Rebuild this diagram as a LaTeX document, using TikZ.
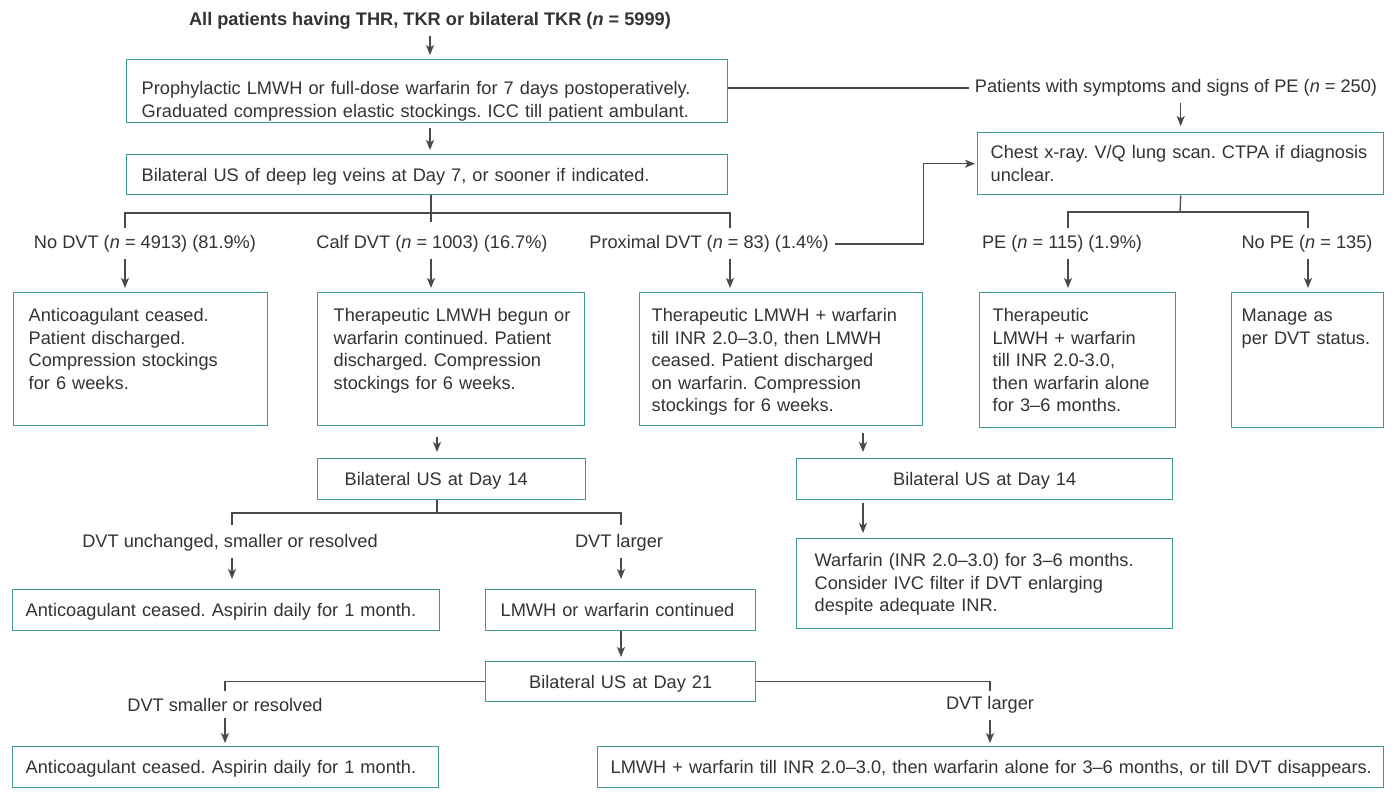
\documentclass[tikz,border=0pt]{standalone}
\usepackage{fontspec}
\setmainfont{Liberation Sans}
\usepackage{xcolor}
\usetikzlibrary{arrows.meta,calc}

\definecolor{boxteal}{HTML}{3D9B94}
\definecolor{linegray}{HTML}{4A4A4A}
\definecolor{textgray}{HTML}{333333}
\newcommand{\chartfont}{\fontsize{18.2pt}{22.5pt}\selectfont}
\frenchspacing
\hyphenpenalty=10000
\exhyphenpenalty=10000

\begin{document}
\begin{tikzpicture}[x=1pt,y=-1pt,
    box/.style={draw=boxteal,line width=1.4pt,anchor=north west,align=left,
      inner xsep=15pt,inner ysep=0pt,text height=27pt,text depth=13pt,
      font=\chartfont,text=textgray},
    lab/.style={inner sep=6pt,font=\chartfont,text=textgray},
    line/.style={draw=linegray,line width=1.3pt},
    arr/.style={line,-{Stealth[length=10pt,width=8pt,inset=2.5pt]},shorten >=4pt}]
    \useasboundingbox (0,0) rectangle (1399,797);

    % Start and prophylaxis
    \node[lab,font=\chartfont\bfseries] (title) at (430,21) {All patients having THR, TKR or bilateral TKR (\textit{n} = 5999)};
    \node[box,text width=571pt,inner xsep=15pt,text height=35pt,text depth=28pt] (pro) at (126,59)
      {Prophylactic LMWH or full-dose warfarin for 7 days postoperatively.\\Graduated compression elastic stockings. ICC till patient ambulant.};
    \node[box,text width=571pt] (usd7) at (126,154) {Bilateral US of deep leg veins at Day 7, or sooner if indicated.};
    \draw[arr] (title.south) -- (title.south |- pro.north);
    \draw[arr,shorten <=5pt] (pro.south -| title) -- (usd7.north -| title);

    % PE branch
    \node[lab] (sympt) at (1176,88) {Patients with symptoms and signs of PE (\textit{n} = 250)};
    \node[box,text width=386pt,inner xsep=10pt,text height=26pt,text depth=36pt] (chest) at (977,132)
      {\hspace*{3pt}Chest x-ray. V/Q lung scan. CTPA if diagnosis\\\hspace*{3pt}unclear.};
    \draw[line] (pro.east |- sympt) -- (sympt.west);
    \draw[arr,shorten >=6pt] (sympt.south -| chest.north) -- (chest.north);

    % Day 7 results
    \node[lab] (nodvtlab) at (145,244) {No DVT (\textit{n} = 4913) (81.9\%)};
    \node[lab] (calflab) at (432,244) {Calf DVT (\textit{n} = 1003) (16.7\%)};
    \node[lab] (proxlab) at (709,244) {Proximal DVT (\textit{n} = 83) (1.4\%)};
    \node[lab] (pelab) at (1062,244) {PE (\textit{n} = 115) (1.9\%)};
    \node[lab] (nopelab) at (1307,244) {No PE (\textit{n} = 135)};
    \coordinate (split7) at (431,213);
    \coordinate (nodvtstub) at (125,228);
    \coordinate (proxstub) at (730,228);
    \coordinate (splitpe) at (1180,212);
    \coordinate (pestub) at (1068,228);
    \coordinate (nopestub) at (1308,228);
    \draw[line] (usd7.south -| split7) -- ($(split7)+(0,9)$);
    \draw[line] (nodvtstub) |- (split7) -| (proxstub);
    \draw[line] (chest.south) -- (splitpe);
    \draw[line] (pestub) |- (splitpe) -| (nopestub);

    % First treatment boxes
    \node[box,text width=224pt,text height=29pt,text depth=104pt] (nodvtbox) at (13,292)
      {Anticoagulant ceased.\\Patient discharged.\\Compression stockings\\for 6 weeks.};
    \node[box,text width=249pt,inner xsep=9pt,text height=29pt,text depth=104pt] (calfbox) at (317,292)
      {\hspace*{7pt}Therapeutic LMWH begun or\\\hspace*{7pt}warfarin continued. Patient\\\hspace*{7pt}discharged. Compression\\\hspace*{7pt}stockings for 6 weeks.};
    \node[box,text width=259pt,inner xsep=12pt,text height=29pt,text depth=104pt] (proxbox) at (639,292)
      {Therapeutic LMWH + warfarin\\till INR 2.0--3.0, then LMWH\\ceased. Patient discharged\\on warfarin. Compression\\stockings for 6 weeks.};
    \node[box,text width=170pt,inner xsep=13pt,text height=29pt,text depth=106pt] (pebox) at (979,292)
      {Therapeutic\\LMWH + warfarin\\till INR 2.0-3.0,\\then warfarin alone\\for 3--6 months.};
    \node[box,text width=132pt,inner xsep=10pt,text height=29pt,text depth=106pt] (nopebox) at (1231,292)
      {Manage as\\per DVT status.};
    \foreach \l/\c/\b in {nodvtlab/nodvtstub/nodvtbox, calflab/split7/calfbox, proxlab/proxstub/proxbox,
                          pelab/pestub/pebox, nopelab/nopestub/nopebox}
      \draw[arr] (\l.south -| \c) -- (\b.north -| \c);
    \draw[arr,shorten >=2pt] (proxlab.east) -- (proxbox.east |- proxlab.east) |- (chest.west);

    % Calf DVT follow-up
    \coordinate (split14) at (437,513);
    \coordinate (unchstub) at (232,525);
    \coordinate (largstub) at (621,525);
    \node[box,text width=214pt,inner xsep=27pt,text depth=14pt] (calf14) at (317,458) {Bilateral US at Day 14};
    \node[lab] (unchlab) at (230,543) {DVT unchanged, smaller or resolved};
    \node[lab] (larglab) at (619,543) {DVT larger};
    \node[box,text width=401pt,inner xsep=13pt,text depth=14pt] (asp1) at (12,589) {Anticoagulant ceased. Aspirin daily for 1 month.};
    \node[box,text width=240pt,text depth=14pt] (cont) at (485,589) {LMWH or warfarin continued};
    \node[box,text width=240pt,align=center] (d21) at (485,661) {Bilateral US at Day 21};
    \draw[arr,shorten <=11pt,shorten >=6pt] (calfbox.south -| split14) -- (calf14.north -| split14);
    \draw[line] (calf14.south -| split14) -- (split14);
    \draw[line] (unchstub) |- (split14) -| (largstub);
    \draw[arr,shorten >=10pt] (unchlab.south -| unchstub) -- (asp1.north -| unchstub);
    \draw[arr,shorten >=10pt] (larglab.south -| largstub) -- (cont.north -| largstub);
    \draw[arr] (cont.south -| largstub) -- (d21.north -| largstub);

    % Day 21 results
    \coordinate (smallstub) at (225,691);
    \coordinate (larg21stub) at (990,691);
    \node[lab] (small21lab) at (225,705) {DVT smaller or resolved};
    \node[lab] (larg21lab) at (990,705) {DVT larger};
    \node[box,text width=400pt,inner xsep=13pt,text depth=14pt] (asp2) at (12,746) {Anticoagulant ceased. Aspirin daily for 1 month.};
    \node[box,text width=776pt,inner xsep=5pt,text depth=14pt] (final) at (597,746)
      {\hspace*{8pt}LMWH + warfarin till INR 2.0--3.0, then warfarin alone for 3--6 months, or till DVT disappears.};
    \draw[line] (d21.west) -| (smallstub);
    \draw[line] (d21.east) -| (larg21stub);
    \draw[arr,shorten >=3pt] (small21lab.south -| smallstub) -- (asp2.north -| smallstub);
    \draw[arr,shorten >=3pt] (larg21lab.south -| larg21stub) -- (final.north -| larg21stub);

    % Proximal DVT follow-up
    \coordinate (proxcol) at (863,0);
    \node[box,text width=346pt,align=center,text depth=14pt] (prox14) at (796,458) {Bilateral US at Day 14};
    \node[box,text width=340pt,inner xsep=18pt,text height=28pt,text depth=62pt] (warf) at (796,538)
      {Warfarin (INR 2.0--3.0) for 3--6 months.\\Consider IVC filter if DVT enlarging\\despite adequate INR.};
    \draw[arr,shorten <=7pt,shorten >=6pt] (proxbox.south -| proxcol) -- (prox14.north -| proxcol);
    \draw[arr,shorten <=3pt,shorten >=5pt] (prox14.south -| proxcol) -- (warf.north -| proxcol);
\end{tikzpicture}
\end{document}
